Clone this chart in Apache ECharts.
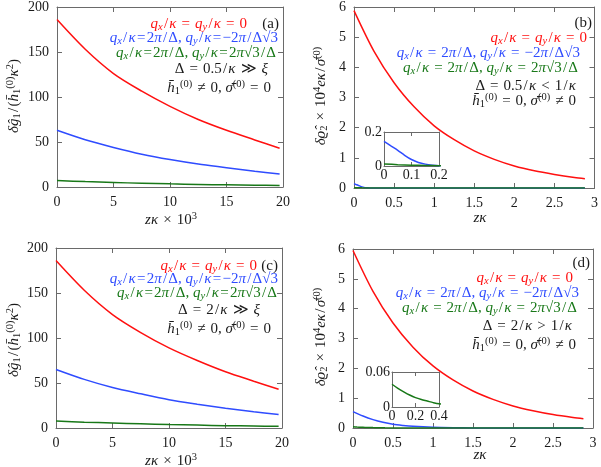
<!DOCTYPE html>
<html><head><meta charset="utf-8">
<script src="https://cdn.jsdelivr.net/npm/echarts@6/dist/echarts.min.js"></script>
<style>html,body{margin:0;padding:0;background:#fff}#c{width:601px;height:467px}</style>
</head><body><div id="c"></div>
<script>
// ---------- data ----------
const xA = [0, 2.5, 5, 7.5, 10, 12.5, 15, 17.5, 19.7];
const redA = [186, 153, 126, 106.5, 89.6, 75, 63, 52.3, 43];
const blueA = [63, 52.5, 44, 36.5, 30.5, 25.5, 21.5, 17.5, 14.5];
const greenA = [7.2, 6, 5, 4.2, 3.5, 2.9, 2.4, 2, 1.6];

const xC = [0, 2.5, 5, 7.5, 10, 12.5, 15, 17.5, 19.7];
const redC = [186, 153, 126, 106, 89, 75, 62.5, 52, 43];
const blueC = [65, 54, 45, 38, 31.5, 26.5, 22, 18, 15];
const greenC = [7.8, 6.5, 5.5, 4.6, 3.8, 3.2, 2.6, 2.2, 1.9];

const xRed = [0, 0.25, 0.5, 0.75, 1, 1.25, 1.5, 1.75, 2, 2.25, 2.5, 2.75, 2.88];
const redB = [5.88, 4.53, 3.49, 2.69, 2.06, 1.6, 1.23, 0.95, 0.73, 0.57, 0.45, 0.35, 0.31];
const redD = [5.95, 4.58, 3.52, 2.71, 2.08, 1.61, 1.24, 0.96, 0.74, 0.58, 0.45, 0.35, 0.31];

const xBlueB = [0, 0.025, 0.05, 0.075, 0.1, 0.125, 0.15, 0.175, 0.2, 0.3, 0.5, 1, 2, 2.88];
const blueB = [0.145, 0.118, 0.092, 0.063, 0.038, 0.021, 0.011, 0.005, 0.002, 0, 0, 0, 0, 0];
const xGreenB = [0, 0.05, 0.1, 0.15, 0.2, 0.3, 1, 2.88];
const greenB = [0.012, 0.008, 0.005, 0.003, 0.002, 0.001, 0, 0];

const xBlueD = [0, 0.125, 0.25, 0.375, 0.5, 0.625, 0.75, 1, 1.25, 1.5, 2, 2.88];
const blueD = [0.55, 0.4, 0.28, 0.19, 0.125, 0.085, 0.055, 0.022, 0.008, 0.003, 0, 0];
const xGreenD = [0, 0.05, 0.1, 0.15, 0.2, 0.25, 0.3, 0.35, 0.4, 0.6, 1, 2.88];
const greenD = [0.039, 0.032, 0.026, 0.0205, 0.016, 0.0128, 0.0102, 0.0075, 0.0055, 0.002, 0, 0];

// ---------- styling ----------
const FONT = '"Liberation Serif"';
const RED = '#ff1010', BLUE = '#2f4cff', GREEN = '#187818', INK = '#1a1a1a', FRAME = '#6a6a6a';

function pairs(xs, ys) { return xs.map((x, i) => [x, ys[i]]); }

const grids = [
  {left: 57, top: 7, width: 226, height: 180},
  {left: 354, top: 7, width: 241, height: 181},
  {left: 56, top: 248, width: 226, height: 180},
  {left: 353, top: 249, width: 240, height: 179},
  {left: 384, top: 132, width: 55, height: 34},
  {left: 392, top: 372, width: 47, height: 35}
];
grids.forEach((g, i) => { if (i >= 4) { g.show = true; g.backgroundColor = '#fff'; g.borderWidth = 0; } });

const xAxes = [], yAxes = [];
function addAxes(gi, xmin, xmax, xint, ymin, ymax, yint, tl, margin) {
  const common = {splitLine: {show: false},
    axisLine: {onZero: false, lineStyle: {color: FRAME, width: 1}},
    axisTick: {inside: true, length: tl, lineStyle: {color: FRAME}}};
  const lab = {color: INK, fontFamily: 'Liberation Serif', fontSize: 14, margin: margin};
  const xb = Object.assign({}, common, {type: 'value', gridIndex: gi, position: 'bottom', min: xmin, max: xmax, interval: xint, axisLabel: Object.assign({}, lab, {showMinLabel: true, showMaxLabel: true})});
  const xt = Object.assign({}, common, {type: 'value', gridIndex: gi, position: 'top', min: xmin, max: xmax, interval: xint, axisLabel: {show: false}});
  const yl = Object.assign({}, common, {type: 'value', gridIndex: gi, position: 'left', min: ymin, max: ymax, interval: yint, axisLabel: lab});
  const yr = Object.assign({}, common, {type: 'value', gridIndex: gi, position: 'right', min: ymin, max: ymax, interval: yint, axisLabel: {show: false}});
  const xi = xAxes.length, yi = yAxes.length;
  xAxes.push(xb, xt); yAxes.push(yl, yr);
  return {x: xi, y: yi};
}
const axA = addAxes(0, 0, 20, 5, 0, 200, 50, 5, 8);
const axB = addAxes(1, 0, 3, 0.5, 0, 6, 1, 5, 8);
const axC = addAxes(2, 0, 20, 5, 0, 200, 50, 5, 8);
const axD = addAxes(3, 0, 3, 0.5, 0, 6, 1, 5, 8);
const axBi = addAxes(4, 0, 0.2, 0.1, 0, 0.2, 0.2, 4, 2);
const axDi = addAxes(5, 0, 0.4, 0.2, 0, 0.06, 0.06, 4, 2);

function line(ax, data, color) {
  return {type: 'line', xAxisIndex: ax.x, yAxisIndex: ax.y, data: data, showSymbol: false,
    smooth: 0.3, clip: true, lineStyle: {color: color, width: 1.5}, itemStyle: {color: color}, animation: false};
}
const series = [
  line(axA, pairs(xA, redA), RED), line(axA, pairs(xA, blueA), BLUE), line(axA, pairs(xA, greenA), GREEN),
  line(axC, pairs(xC, redC), RED), line(axC, pairs(xC, blueC), BLUE), line(axC, pairs(xC, greenC), GREEN),
  line(axB, pairs(xRed, redB), RED), line(axB, pairs(xBlueB, blueB), BLUE), line(axB, pairs(xGreenB, greenB), GREEN),
  line(axD, pairs(xRed, redD), RED), line(axD, pairs(xBlueD, blueD), BLUE), line(axD, pairs(xGreenD, greenD), GREEN),
  line(axBi, pairs(xBlueB, blueB), BLUE), line(axBi, pairs(xGreenB, greenB), GREEN),
  line(axDi, pairs(xBlueD, blueD), BLUE), line(axDi, pairs(xGreenD, greenD), GREEN)
];

function rich(color) {
  return {
    i: {font: 'italic 15px ' + FONT, fill: color, lineHeight: 18},
    r: {font: '15px ' + FONT, fill: color, lineHeight: 18},
    sb: {font: 'italic 10.5px ' + FONT, fill: color, lineHeight: 10, verticalAlign: 'bottom'},
    sbr: {font: '10.5px ' + FONT, fill: color, lineHeight: 10, verticalAlign: 'bottom'},
    sp: {font: '10.5px ' + FONT, fill: color, lineHeight: 10, verticalAlign: 'top'}
  };
}
function txt(x, y, s, color, align, rot) {
  return {type: 'text', x: x, y: y, rotation: rot || 0, z: 100,
    style: {text: s, rich: rich(color), align: align || 'right', verticalAlign: 'middle', fill: color, font: '15px ' + FONT}};
}

const S = '\u2004', H = '\u200A';          // relation space, hair space
const SL = H + '/' + H;                    // slash with CM-like side bearing
const L_RED = `{i|q}{sb|x}{r|${SL}}{i|κ}{r|${S}=${S}}{i|q}{sb|y}{r|${SL}}{i|κ}{r|${S}=${S}0}`;
const L_BLUE_T = `{i|q}{sb|x}{r|${SL}}{i|κ}{r|${H}=${H}2}{i|π}{r|${SL}Δ, }{i|q}{sb|y}{r|${SL}}{i|κ}{r|${H}=${H}−2}{i|π}{r|${SL}Δ√3}`;
const L_GREEN_T = `{i|q}{sb|x}{r|${SL}}{i|κ}{r|${H}=${H}2}{i|π}{r|${SL}Δ, }{i|q}{sb|y}{r|${SL}}{i|κ}{r|${H}=${H}2}{i|π}{r|√3${SL}Δ}`;
const L_BLUE_S = `{i|q}{sb|x}{r|${SL}}{i|κ}{r|${S}=${S}2}{i|π}{r|${SL}Δ, }{i|q}{sb|y}{r|${SL}}{i|κ}{r|${S}=${S}−2}{i|π}{r|${SL}Δ√3}`;
const L_GREEN_S = `{i|q}{sb|x}{r|${SL}}{i|κ}{r|${S}=${S}2}{i|π}{r|${SL}Δ, }{i|q}{sb|y}{r|${SL}}{i|κ}{r|${S}=${S}2}{i|π}{r|√3${SL}Δ}`;
const H_A = `{i|h̄}{sbr|1}{sp|(0)}{r|${S}≠${S}0, }{i|σ̄}{sp|(0)}{r|${S}=${S}0}`;
const H_B = `{i|h̄}{sbr|1}{sp|(0)}{r|${S}=${S}0, }{i|σ̄}{sp|(0)}{r|${S}≠${S}0}`;
const D_A = `{r|Δ${S}=${S}0.5${SL}}{i|κ}{r|${S}≫${S}}{i|ξ}`;
const D_B = `{r|Δ${S}=${S}0.5${SL}}{i|κ}{r|${S}<${S}1${SL}}{i|κ}`;
const D_C = `{r|Δ${S}=${S}2${SL}}{i|κ}{r|${S}≫${S}}{i|ξ}`;
const D_D = `{r|Δ${S}=${S}2${SL}}{i|κ}{r|${S}>${S}1${SL}}{i|κ}`;
const YL_A = `{i|δĝ}{sbr|1}{r|${SL}(}{i|h̄}{sbr|1}{sp|(0)}{i|κ}{sp|2}{r|)}`;
const YL_B = `{i|δϱ̂}{sbr|2}{r|${S}×${S}10}{sp|4}{i|eκ}{r|${SL}}{i|σ̄}{sp|(0)}`;
const XL_A = `{i|zκ}{r|${S}×${S}10}{sp|3}`;
const XL_B = '{i|zκ}';

const graphics = [
  // panel a
  txt(279, 24, '{r|(a)}', INK), txt(247, 24, L_RED, RED), txt(278, 38, L_BLUE_T, BLUE),
  txt(276, 53, L_GREEN_T, GREEN), txt(268, 69, D_A, INK), txt(271, 88, H_A, INK),
  txt(14, 96, YL_A, INK, 'center', Math.PI / 2), txt(171, 220, XL_A, INK, 'center'),
  // panel b
  txt(592, 23, '{r|(b)}', INK), txt(587, 38, L_RED, RED), txt(580, 53, L_BLUE_S, BLUE),
  txt(578, 68, L_GREEN_S, GREEN), txt(576, 86, D_B, INK), txt(576, 101, H_B, INK),
  txt(321, 96, YL_B, INK, 'center', Math.PI / 2), txt(480, 218, XL_B, INK, 'center'),
  // panel c
  txt(278, 266, '{r|(c)}', INK), txt(257, 266, L_RED, RED), txt(278, 279, L_BLUE_T, BLUE),
  txt(277, 293, L_GREEN_T, GREEN), txt(260, 310, D_C, INK), txt(271, 329, H_A, INK),
  txt(14, 340, YL_A, INK, 'center', Math.PI / 2), txt(171, 461, XL_A, INK, 'center'),
  // panel d
  txt(590, 263, '{r|(d)}', INK), txt(573, 278, L_RED, RED), txt(579, 293, L_BLUE_S, BLUE),
  txt(577, 308, L_GREEN_S, GREEN), txt(572, 326, D_D, INK), txt(576, 345, H_B, INK),
  txt(321, 337, YL_B, INK, 'center', Math.PI / 2), txt(480, 455, XL_B, INK, 'center')
];

const chart = echarts.init(document.getElementById('c'), null, {renderer: 'canvas'});
chart.setOption({
  backgroundColor: '#fff',
  animation: false,
  grid: grids,
  xAxis: xAxes,
  yAxis: yAxes,
  series: series,
  graphic: graphics
});
</script></body></html>
